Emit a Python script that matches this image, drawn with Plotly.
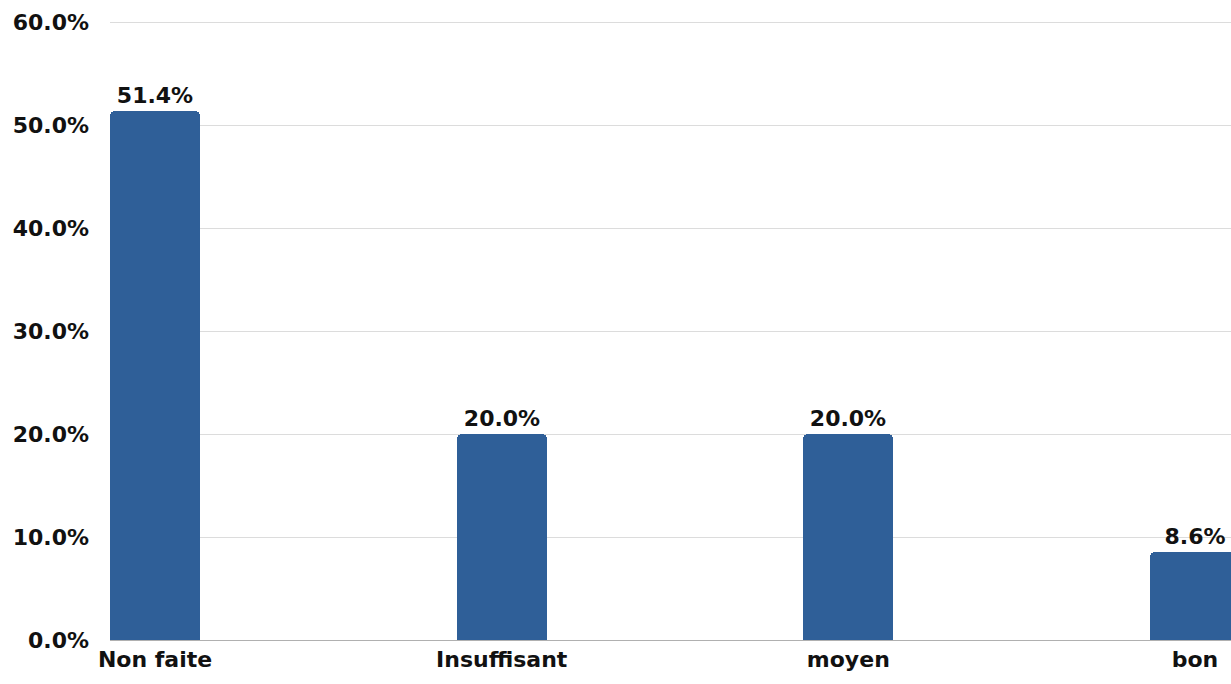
import plotly.graph_objects as go

categories = ["Non faite", "Insuffisant", "moyen", "bon"]
values = [51.4, 20.0, 20.0, 8.6]
y_ticks = [0, 10, 20, 30, 40, 50, 60]
y_tick_labels = [f"{v:.1f}%" for v in y_ticks]

BAR_COLOR = "#2f5f98"
FONT = "DejaVu Sans"

fig = go.Figure(
    go.Bar(
        x=categories,
        y=values,
        width=0.26,
        marker=dict(color=BAR_COLOR, cornerradius=5, line=dict(width=0)),
        text=values,
        texttemplate="%{y:.1f}%",
        textposition="outside",
        cliponaxis=False,
        textfont=dict(family=FONT, size=22, color="#111111", weight="bold"),
    )
)

fig.update_layout(
    width=1231,
    height=684,
    margin=dict(l=110, r=0, t=21, b=44),
    plot_bgcolor="white",
    paper_bgcolor="white",
    showlegend=False,
    bargap=0,
)

fig.update_xaxes(
    type="category",
    range=[-0.13, 3.104],
    showgrid=False,
    showline=True,
    linecolor="#b0b0b0",
    linewidth=1,
    ticks="",
    tickfont=dict(family=FONT, size=22, color="#111111", weight="bold"),
)

fig.update_yaxes(
    range=[0, 60.15],
    tickmode="array",
    tickvals=y_ticks,
    ticktext=y_tick_labels,
    showgrid=True,
    gridcolor="#dcdcdc",
    gridwidth=1,
    zeroline=False,
    showline=False,
    ticks="",
    ticklabelstandoff=20,
    tickfont=dict(family=FONT, size=22, color="#111111", weight="bold"),
)

fig.write_html("out.html")
